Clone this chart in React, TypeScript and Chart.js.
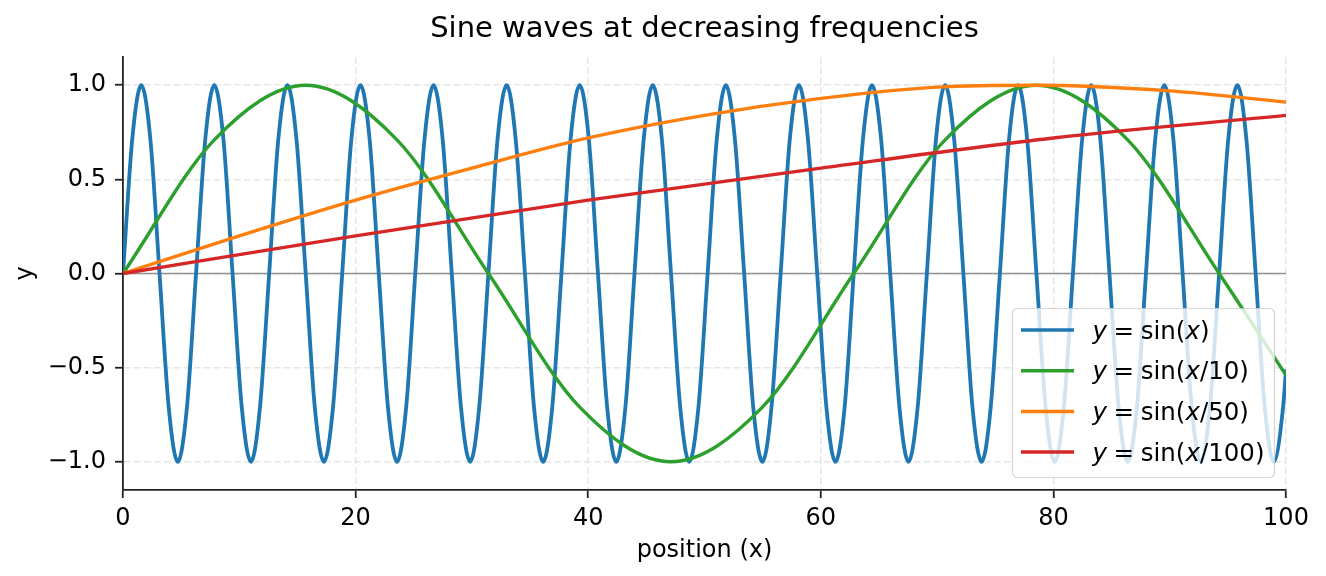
import React, { useEffect, useRef } from 'react';
import { Chart, registerables } from 'chart.js';

Chart.register(...registerables);

const FONT = "'DejaVu Sans', 'Liberation Sans', sans-serif";
const W = 1326;
const H = 576;

const TITLE = 'Sine waves at decreasing frequencies';
const X_LABEL = 'position (x)';
const Y_LABEL = 'y';
const X_TICKS = [0, 20, 40, 60, 80, 100];
const Y_TICKS = [-1, -0.5, 0, 0.5, 1];
const X_RANGE = [0, 100];
const Y_RANGE = [-1.15, 1.15];

// argument shown inside sin(...) for each legend entry
const SERIES_ARGS = ['x', 'x/10', 'x/50', 'x/100'];
const SERIES_COLORS = ['#1f77b4', '#2ca02c', '#ff7f0e', '#d62728'];

// y = sin(x): values read at eighth-period positions from the plot
const BLUE_X = [
  0, 0.79, 1.57, 2.36, 3.14, 3.93, 4.71, 5.5,
  6.28, 7.07, 7.85, 8.64, 9.42, 10.21, 11.0, 11.78,
  12.57, 13.35, 14.14, 14.92, 15.71, 16.49, 17.28, 18.06,
  18.85, 19.63, 20.42, 21.21, 21.99, 22.78, 23.56, 24.35,
  25.13, 25.92, 26.7, 27.49, 28.27, 29.06, 29.85, 30.63,
  31.42, 32.2, 32.99, 33.77, 34.56, 35.34, 36.13, 36.91,
  37.7, 38.48, 39.27, 40.06, 40.84, 41.63, 42.41, 43.2,
  43.98, 44.77, 45.55, 46.34, 47.12, 47.91, 48.69, 49.48,
  50.27, 51.05, 51.84, 52.62, 53.41, 54.19, 54.98, 55.76,
  56.55, 57.33, 58.12, 58.9, 59.69, 60.48, 61.26, 62.05,
  62.83, 63.62, 64.4, 65.19, 65.97, 66.76, 67.54, 68.33,
  69.12, 69.9, 70.69, 71.47, 72.26, 73.04, 73.83, 74.61,
  75.4, 76.18, 76.97, 77.75, 78.54, 79.33, 80.11, 80.9,
  81.68, 82.47, 83.25, 84.04, 84.82, 85.61, 86.39, 87.18,
  87.96, 88.75, 89.54, 90.32, 91.11, 91.89, 92.68, 93.46,
  94.25, 95.03, 95.82, 96.6, 97.39, 98.17, 98.96, 99.75,
  100,
];
const BLUE_Y = [
  0, 0.71, 1, 0.71, 0, -0.71, -1, -0.71,
  0, 0.71, 1, 0.71, 0, -0.71, -1, -0.71,
  0, 0.71, 1, 0.71, 0, -0.71, -1, -0.71,
  0, 0.71, 1, 0.71, 0, -0.71, -1, -0.71,
  0, 0.71, 1, 0.71, 0, -0.71, -1, -0.71,
  0, 0.71, 1, 0.71, 0, -0.71, -1, -0.71,
  0, 0.71, 1, 0.71, 0, -0.71, -1, -0.71,
  0, 0.71, 1, 0.71, 0, -0.71, -1, -0.71,
  0, 0.71, 1, 0.71, 0, -0.71, -1, -0.71,
  0, 0.71, 1, 0.71, 0, -0.71, -1, -0.71,
  0, 0.71, 1, 0.71, 0, -0.71, -1, -0.71,
  0, 0.71, 1, 0.71, 0, -0.71, -1, -0.71,
  0, 0.71, 1, 0.71, 0, -0.71, -1, -0.71,
  0, 0.71, 1, 0.71, 0, -0.71, -1, -0.71,
  0, 0.71, 1, 0.71, 0, -0.71, -1, -0.71,
  0, 0.71, 1, 0.71, 0, -0.71, -1, -0.71,
  -0.51,
];

// y = sin(x/10)
const GREEN_X = [0, 7.85, 15.71, 23.56, 31.42, 39.27, 47.12, 54.98, 62.83, 70.69, 78.54, 86.39, 94.25, 100];
const GREEN_Y = [0, 0.71, 1, 0.71, 0, -0.71, -1, -0.71, 0, 0.71, 1, 0.71, 0, -0.54];

// y = sin(x/50)
const ORANGE_X = [0, 10, 20, 30, 40, 50, 60, 70, 78.54, 90, 100];
const ORANGE_Y = [0, 0.2, 0.39, 0.56, 0.72, 0.84, 0.93, 0.99, 1, 0.97, 0.91];

// y = sin(x/100)
const RED_X = [0, 20, 40, 60, 80, 100];
const RED_Y = [0, 0.2, 0.39, 0.56, 0.72, 0.84];

const toPoints = (xs: number[], ys: number[]) => xs.map((x, i) => ({ x, y: ys[i] }));

const fmtTick = (v: number) => v.toFixed(1).replace('-', '\u2212');

function drawMathLabel(ctx: CanvasRenderingContext2D, arg: string, x: number, y: number, size: number) {
  const roman = `${size}px ${FONT}`;
  const italic = `italic ${size}px ${FONT}`;
  const gap = size * 0.27;
  let cx = x;
  const seg = (t: string, it: boolean) => {
    ctx.font = it ? italic : roman;
    ctx.fillText(t, cx, y);
    cx += ctx.measureText(t).width;
  };
  seg('y', true);
  cx += gap;
  seg('=', false);
  cx += gap;
  seg('sin(', false);
  seg(arg.charAt(0), true);
  seg(arg.slice(1) + ')', false);
}

const decorPlugin = {
  id: 'decor',
  beforeDatasetsDraw(chart: any) {
    const { ctx, chartArea: a, scales } = chart;
    const y0 = scales.y.getPixelForValue(0);
    ctx.save();
    ctx.strokeStyle = 'rgba(128,128,128,0.85)';
    ctx.lineWidth = 1.5;
    ctx.beginPath();
    ctx.moveTo(a.left, y0);
    ctx.lineTo(a.right, y0);
    ctx.stroke();
    ctx.restore();
  },
  afterDatasetsDraw(chart: any) {
    const { ctx, chartArea: a } = chart;
    ctx.save();
    const bw = 262;
    const bh = 169;
    const bx = a.right - 11.5 - bw;
    const by = a.bottom - 12.5 - bh;
    const r = 5;
    ctx.beginPath();
    ctx.moveTo(bx + r, by);
    ctx.lineTo(bx + bw - r, by);
    ctx.arcTo(bx + bw, by, bx + bw, by + r, r);
    ctx.lineTo(bx + bw, by + bh - r);
    ctx.arcTo(bx + bw, by + bh, bx + bw - r, by + bh, r);
    ctx.lineTo(bx + r, by + bh);
    ctx.arcTo(bx, by + bh, bx, by + bh - r, r);
    ctx.lineTo(bx, by + r);
    ctx.arcTo(bx, by, bx + r, by, r);
    ctx.closePath();
    ctx.fillStyle = 'rgba(255,255,255,0.8)';
    ctx.fill();
    ctx.strokeStyle = 'rgba(204,204,204,0.8)';
    ctx.lineWidth = 1.2;
    ctx.stroke();
    SERIES_ARGS.forEach((arg, i) => {
      const ry = by + 21.5 + i * 40.7;
      ctx.strokeStyle = SERIES_COLORS[i];
      ctx.lineWidth = 3.5;
      ctx.beginPath();
      ctx.moveTo(bx + 8.5, ry);
      ctx.lineTo(bx + 61.5, ry);
      ctx.stroke();
      ctx.fillStyle = '#000';
      ctx.textAlign = 'left';
      ctx.textBaseline = 'alphabetic';
      drawMathLabel(ctx, arg, bx + 80, ry + 8.5, 24.5);
    });
    ctx.restore();
  },
  afterDraw(chart: any) {
    const { ctx, chartArea: a } = chart;
    ctx.save();
    ctx.fillStyle = '#000';
    ctx.textBaseline = 'alphabetic';
    ctx.textAlign = 'center';
    ctx.font = `29px ${FONT}`;
    ctx.fillText(TITLE, (a.left + a.right) / 2, 37);
    ctx.font = `24px ${FONT}`;
    ctx.fillText(X_LABEL, (a.left + a.right) / 2, 557);
    ctx.translate(32.3, (a.top + a.bottom) / 2);
    ctx.rotate(-Math.PI / 2);
    ctx.fillText(Y_LABEL, 0, 0);
    ctx.restore();
  },
};

export default function App() {
  const ref = useRef<HTMLCanvasElement | null>(null);

  useEffect(() => {
    document.body.style.margin = '0';
    const canvas = ref.current;
    if (!canvas) return;
    const seriesData = [
      toPoints(BLUE_X, BLUE_Y),
      toPoints(GREEN_X, GREEN_Y),
      toPoints(ORANGE_X, ORANGE_Y),
      toPoints(RED_X, RED_Y),
    ];
    const axisColor = '#222';
    const gridColor = '#e6e6e6';
    const chart = new Chart(canvas, {
      type: 'line',
      data: {
        datasets: seriesData.map((d, i) => ({
          label: `y = sin(${SERIES_ARGS[i]})`,
          data: d,
          borderColor: SERIES_COLORS[i],
          backgroundColor: SERIES_COLORS[i],
          borderWidth: i === 0 ? 3.8 : 3.4,
          pointRadius: 0,
          fill: false,
          tension: 0.4,
          cubicInterpolationMode: 'monotone',
          order: 4 - i,
        })),
      },
      options: {
        responsive: false,
        animation: false,
        devicePixelRatio: 1,
        events: [],
        layout: { padding: { top: 57, right: 40, left: 0, bottom: 0 } },
        plugins: {
          legend: { display: false },
          tooltip: { enabled: false },
          title: { display: false },
        },
        scales: {
          x: {
            type: 'linear',
            min: X_RANGE[0],
            max: X_RANGE[1],
            afterBuildTicks: (s: any) => {
              s.ticks = X_TICKS.map((v) => ({ value: v }));
            },
            afterFit: (s: any) => {
              s.height = 86;
            },
            ticks: {
              color: '#000',
              font: { family: FONT, size: 24 },
              padding: 6,
              maxRotation: 0,
              callback: (v: any) => String(v),
            },
            grid: {
              color: gridColor,
              lineWidth: 1.5,
              tickColor: axisColor,
              tickWidth: 1.8,
              tickLength: 8,
            },
            border: { display: true, color: axisColor, width: 1.8, dash: [7, 3] },
          },
          y: {
            type: 'linear',
            min: Y_RANGE[0],
            max: Y_RANGE[1],
            afterBuildTicks: (s: any) => {
              s.ticks = Y_TICKS.map((v) => ({ value: v }));
            },
            afterFit: (s: any) => {
              s.width = 123;
            },
            ticks: {
              color: '#000',
              font: { family: FONT, size: 24 },
              padding: 9,
              callback: (v: any) => fmtTick(Number(v)),
            },
            grid: {
              color: gridColor,
              lineWidth: 1.5,
              tickColor: axisColor,
              tickWidth: 1.8,
              tickLength: 8,
            },
            border: { display: true, color: axisColor, width: 1.8, dash: [7, 3] },
          },
        },
      },
      plugins: [decorPlugin],
    } as any);
    return () => chart.destroy();
  }, []);

  return (
    <div style={{ width: W, height: H }}>
      <canvas ref={ref} width={W} height={H} style={{ width: W, height: H, display: 'block' }} />
    </div>
  );
}
